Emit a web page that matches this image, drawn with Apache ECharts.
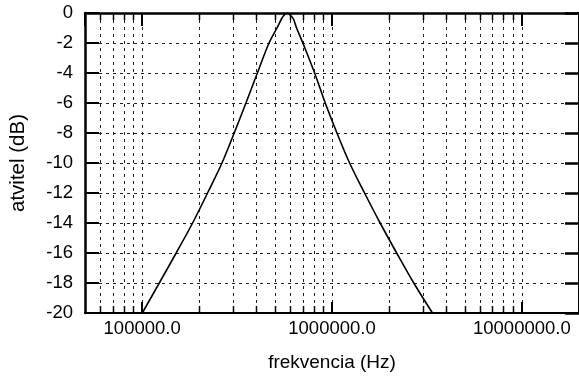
<!DOCTYPE html>
<html>
<head>
<meta charset="utf-8">
<script src="https://cdn.jsdelivr.net/npm/echarts@6/dist/echarts.min.js"></script>
<style>
html,body{margin:0;padding:0;background:#fff;}
#c{width:579px;height:378px;}
</style>
</head>
<body>
<div id="c"></div>
<script>
// Frequency response
const freqHz = [100200, 123100, 151100, 184400, 221000, 263300, 305400, 352100, 404500, 465900, 513100, 541700, 558400, 578900, 603900, 626200, 650900, 702200, 809800, 921300, 1062000, 1238000, 1484000, 1793000, 2191000, 2696000, 3383000];
const gainDb = [-20, -18, -16, -14, -12, -10, -8, -6, -4, -2, -1, -0.4, -0.15, 0, -0.15, -0.4, -1, -2, -4, -6, -8, -10, -12, -14, -16, -18, -20];
const minorTicksHz = [60000, 70000, 80000, 90000,
  200000, 300000, 400000, 500000, 600000, 700000, 800000, 900000,
  2000000, 3000000, 4000000, 5000000, 6000000, 7000000, 8000000, 9000000];
const xMin = 50000, xMax = 20000000;
const yMin = -20, yMax = 0, yStep = 2;
const xTitle = 'frekvencia (Hz)';
const yTitle = 'atvitel (dB)';

const FONT = 'Liberation Sans';
const chart = echarts.init(document.getElementById('c'), null, {renderer: 'canvas'});
const dash = [3, 4];

chart.setOption({
  animation: false,
  backgroundColor: '#fff',
  grid: {left: 84, top: 13, width: 496, height: 300, containLabel: false},
  xAxis: [{
    type: 'log', logBase: 10, min: xMin, max: xMax, position: 'bottom',
    name: xTitle, nameLocation: 'middle', nameGap: 40,
    nameTextStyle: {fontFamily: FONT, fontSize: 19, color: '#000'},
    axisLine: {show: true, onZero: false, lineStyle: {color: '#000', width: 2}},
    axisTick: {show: true, inside: true, length: 11, lineStyle: {color: '#000', width: 2}},
    axisLabel: {show: true, showMinLabel: false, showMaxLabel: false, margin: 6,
      fontFamily: FONT, fontSize: 18.5, color: '#000',
      formatter: v => Math.round(v).toFixed(1)},
    splitLine: {show: true, lineStyle: {color: '#222', width: 1, type: dash}},
    minorTick: {show: false}, minorSplitLine: {show: false}
  }, {
    type: 'log', logBase: 10, min: xMin, max: xMax, position: 'top',
    axisLine: {show: true, onZero: false, lineStyle: {color: '#000', width: 2.5}},
    axisTick: {show: true, inside: true, length: 13, lineStyle: {color: '#000', width: 2}},
    axisLabel: {show: false}, splitLine: {show: false}
  }],
  yAxis: [{
    type: 'value', min: yMin, max: yMax, interval: yStep, position: 'left',
    name: yTitle, nameLocation: 'middle', nameGap: 56, nameRotate: 90,
    nameTextStyle: {fontFamily: FONT, fontSize: 20.5, color: '#000'},
    axisLine: {show: true, onZero: false, lineStyle: {color: '#000', width: 2.5}},
    axisTick: {show: true, inside: true, length: 14, lineStyle: {color: '#000', width: 2}},
    axisLabel: {show: true, margin: 12, fontFamily: FONT, fontSize: 18.5, color: '#000'},
    splitLine: {show: true, lineStyle: {color: '#222', width: 1, type: dash}}
  }, {
    type: 'value', min: yMin, max: yMax, interval: yStep, position: 'right',
    axisLine: {show: true, onZero: false, lineStyle: {color: '#000', width: 2}},
    axisTick: {show: true, inside: true, length: 14, lineStyle: {color: '#000', width: 2.5}},
    axisLabel: {show: false}, splitLine: {show: false}
  }],
  series: [{
    type: 'custom', coordinateSystem: 'cartesian2d', xAxisIndex: 0, yAxisIndex: 0,
    silent: true, z: 1, clip: false,
    data: minorTicksHz.map(v => [v, yMin]),
    renderItem: function (params, api) {
      const v = api.value(0);
      const pb = api.coord([v, yMin]);
      const pt = api.coord([v, yMax]);
      const x = Math.round(pb[0]) + 0.5;
      return {
        type: 'group',
        children: [
          {type: 'line', shape: {x1: x, y1: pt[1], x2: x, y2: pb[1]},
           style: {stroke: '#222', lineWidth: 1, lineDash: dash}},
          {type: 'line', shape: {x1: x, y1: pb[1], x2: x, y2: pb[1] - 7},
           style: {stroke: '#000', lineWidth: 1.5}},
          {type: 'line', shape: {x1: x, y1: pt[1], x2: x, y2: pt[1] + 7},
           style: {stroke: '#000', lineWidth: 1.5}}
        ]
      };
    }
  }, {
    type: 'line', xAxisIndex: 0, yAxisIndex: 0, z: 3,
    data: freqHz.map((f, i) => [f, gainDb[i]]),
    showSymbol: false, symbol: 'none', smooth: 0.35,
    lineStyle: {color: '#000', width: 1.6},
    clip: true
  }]
});
</script>
</body>
</html>
